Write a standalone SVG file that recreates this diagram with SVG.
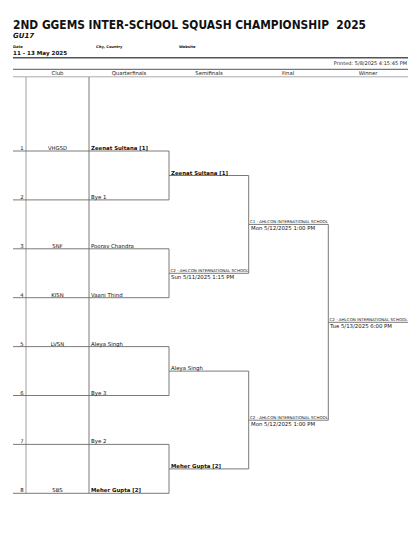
<svg xmlns="http://www.w3.org/2000/svg" width="420" height="560" viewBox="0 0 420 560">
<style>
text{font-family:"DejaVu Sans","Liberation Sans",sans-serif;fill:#111}
.t{font-size:12px;font-weight:bold;white-space:pre}
.sub{font-size:7px;font-weight:bold;font-style:italic}
.lbl{font-size:3.6px;font-weight:bold}
.info{font-size:5.6px;font-weight:bold}
.pr{font-size:5px;fill:#222}
.hd{font-size:5.3px;fill:#222;text-anchor:middle}
.num{font-size:5.3px;text-anchor:end}
.club{font-size:5.3px;text-anchor:middle}
.p{font-size:5.4px}
.pb{font-size:5.4px;font-weight:bold}
.loc{font-size:3.9px}
.dt{font-size:5.4px}
.ln{stroke:#6b6b6b;stroke-width:0.9;fill:none}
.cl{stroke:#888;stroke-width:0.8;fill:none}
</style>
<rect width="420" height="560" fill="#fff"/>
<g id="header">
<text class="t" x="13" y="29.3" textLength="353" lengthAdjust="spacingAndGlyphs" xml:space="preserve">2ND GGEMS INTER-SCHOOL SQUASH CHAMPIONSHIP  2025</text>
<text class="sub" x="13" y="37.5">GU17</text>
<text class="lbl" x="13" y="48">Date</text>
<text class="lbl" x="96" y="48">City, Country</text>
<text class="lbl" x="179" y="48">Website</text>
<text class="info" x="13" y="55.3">11 - 13 May 2025</text>
<line x1="13" y1="57.8" x2="408" y2="57.8" stroke="#555" stroke-width="1.4"/>
<text class="pr" x="407" y="65" text-anchor="end">Printed: 5/8/2025 4:15:45 PM</text>
<line x1="13" y1="69.3" x2="408" y2="69.3" stroke="#555" stroke-width="1"/>
<text class="hd" x="57.5" y="75">Club</text>
<text class="hd" x="129" y="75">Quarterfinals</text>
<text class="hd" x="209" y="75">Semifinals</text>
<text class="hd" x="288" y="75">Final</text>
<text class="hd" x="368" y="75">Winner</text>
<line x1="13" y1="76.8" x2="408" y2="76.8" stroke="#888" stroke-width="0.7"/>
</g>
<g id="connectors">
<line class="cl" x1="26" y1="77" x2="26" y2="493.3"/>
<line class="ln" x1="89" y1="77" x2="89" y2="493.3"/>
<path class="ln" d="M13 151H169V199.9H13"/>
<path class="ln" d="M13 248.8H169V297.7H13"/>
<path class="ln" d="M13 346.6H169V395.5H13"/>
<path class="ln" d="M13 444.4H169V493.3H13"/>
<path class="ln" d="M169 175.5H248.7V273.3H169"/>
<path class="ln" d="M169 371.1H248.7V468.9H169"/>
<path class="ln" d="M248.7 224.4H328.3V420.2H248.7"/>
<line class="ln" x1="328.3" y1="322.3" x2="408" y2="322.3"/>
</g>
<g id="r1"><text class="num" x="23.5" y="150">1</text><text class="club" x="57.5" y="150">VHGSD</text><text class="pb" x="91" y="150">Zeenat Sultana [1]</text></g>
<g id="r2"><text class="num" x="23.5" y="198.9">2</text><text class="p" x="91" y="198.9">Bye 1</text></g>
<g id="r3"><text class="num" x="23.5" y="247.8">3</text><text class="club" x="57.5" y="247.8">SNF</text><text class="p" x="91" y="247.8">Poorav Chandra</text></g>
<g id="r4"><text class="num" x="23.5" y="296.7">4</text><text class="club" x="57.5" y="296.7">KISN</text><text class="p" x="91" y="296.7">Vaani Thind</text></g>
<g id="r5"><text class="num" x="23.5" y="345.6">5</text><text class="club" x="57.5" y="345.6">LVSN</text><text class="p" x="91" y="345.6">Aleya Singh</text></g>
<g id="r6"><text class="num" x="23.5" y="394.5">6</text><text class="p" x="91" y="394.5">Bye 3</text></g>
<g id="r7"><text class="num" x="23.5" y="443.4">7</text><text class="p" x="91" y="443.4">Bye 2</text></g>
<g id="r8"><text class="num" x="23.5" y="492.3">8</text><text class="club" x="57.5" y="492.3">SBS</text><text class="pb" x="91" y="492.3">Meher Gupta [2]</text></g>
<g id="sf1"><text class="pb" x="171" y="174.5">Zeenat Sultana [1]</text></g>
<g id="sf2"><text class="loc" x="170.5" y="272.3" textLength="78" lengthAdjust="spacingAndGlyphs">C2 - AHLCON INTERNATIONAL SCHOOL</text><text class="dt" x="171" y="279">Sun 5/11/2025 1:15 PM</text></g>
<g id="sf3"><text class="p" x="171" y="370.1">Aleya Singh</text></g>
<g id="sf4"><text class="pb" x="171" y="467.9">Meher Gupta [2]</text></g>
<g id="f1"><text class="loc" x="250" y="223.4" textLength="78" lengthAdjust="spacingAndGlyphs">C1 - AHLCON INTERNATIONAL SCHOOL</text><text class="dt" x="251" y="229.8">Mon 5/12/2025 1:00 PM</text></g>
<g id="f2"><text class="loc" x="250" y="419.2" textLength="78" lengthAdjust="spacingAndGlyphs">C2 - AHLCON INTERNATIONAL SCHOOL</text><text class="dt" x="251" y="425.7">Mon 5/12/2025 1:00 PM</text></g>
<g id="w"><text class="loc" x="329.5" y="321.3" textLength="78" lengthAdjust="spacingAndGlyphs">C2 - AHLCON INTERNATIONAL SCHOOL</text><text class="dt" x="330" y="327.6">Tue 5/13/2025 6:00 PM</text></g>
</svg>
